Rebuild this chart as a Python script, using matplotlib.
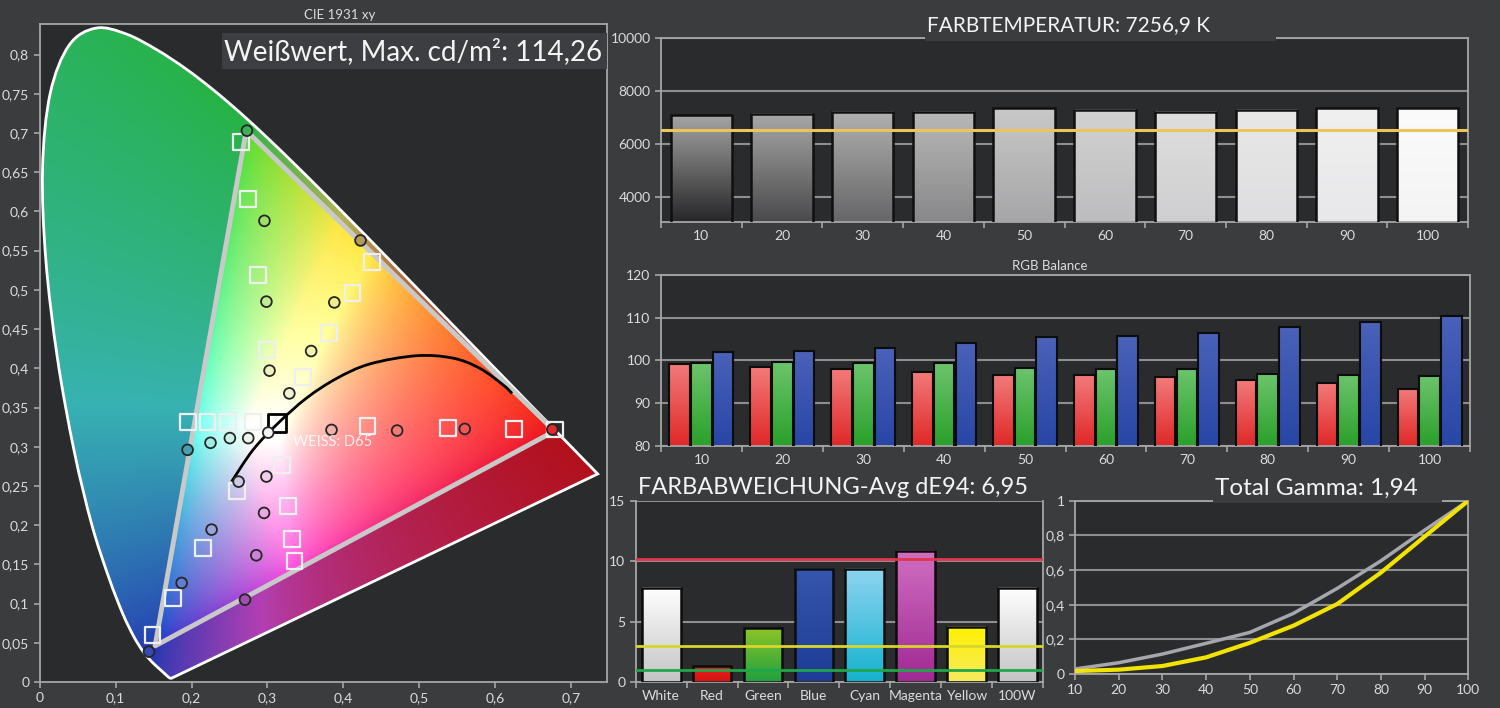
import numpy as np
import matplotlib
matplotlib.use("Agg")
import matplotlib.pyplot as plt
from matplotlib.patches import Polygon, Rectangle, PathPatch
from matplotlib.colors import LinearSegmentedColormap
from matplotlib.path import Path
from matplotlib.ticker import FuncFormatter

plt.rcParams['font.family'] = ['Lato', 'DejaVu Sans']

# ---------------- data ----------------
# CIE 1931 2deg spectral locus, 380..700 nm in 5 nm steps
locus_x = [0.1741, 0.1740, 0.1738, 0.1736, 0.1733, 0.1730, 0.1726, 0.1721, 0.1714, 0.1703,
           0.1689, 0.1669, 0.1644, 0.1611, 0.1566, 0.1510, 0.1440, 0.1355, 0.1241, 0.1096,
           0.0913, 0.0687, 0.0454, 0.0235, 0.0082, 0.0039, 0.0139, 0.0389, 0.0743, 0.1142,
           0.1547, 0.1929, 0.2296, 0.2658, 0.3016, 0.3373, 0.3731, 0.4087, 0.4441, 0.4788,
           0.5125, 0.5448, 0.5752, 0.6029, 0.6270, 0.6482, 0.6658, 0.6801, 0.6915, 0.7006,
           0.7079, 0.7140, 0.7190, 0.7230, 0.7260, 0.7283, 0.7300, 0.7311, 0.7320, 0.7327,
           0.7334, 0.7340, 0.7344, 0.7346, 0.7347]
locus_y = [0.0050, 0.0050, 0.0049, 0.0049, 0.0048, 0.0048, 0.0048, 0.0048, 0.0051, 0.0058,
           0.0069, 0.0086, 0.0109, 0.0138, 0.0177, 0.0227, 0.0297, 0.0399, 0.0578, 0.0868,
           0.1327, 0.2007, 0.2950, 0.4127, 0.5384, 0.6548, 0.7502, 0.8120, 0.8338, 0.8262,
           0.8059, 0.7816, 0.7543, 0.7243, 0.6923, 0.6589, 0.6245, 0.5896, 0.5547, 0.5202,
           0.4866, 0.4544, 0.4242, 0.3965, 0.3725, 0.3514, 0.3340, 0.3197, 0.3083, 0.2993,
           0.2920, 0.2859, 0.2809, 0.2770, 0.2740, 0.2717, 0.2700, 0.2689, 0.2680, 0.2673,
           0.2666, 0.2660, 0.2656, 0.2654, 0.2653]
D65_XYZ = [0.9505, 1.0, 1.089]

gamut_x = [0.678, 0.272, 0.152]   # R, G, B
gamut_y = [0.320, 0.703, 0.046]

planck_x = [0.2528, 0.281, 0.314, 0.3514, 0.391, 0.4347, 0.496, 0.544, 0.5795, 0.610, 0.622]
planck_y = [0.2555, 0.296, 0.330, 0.362, 0.387, 0.4055, 0.416, 0.413, 0.400, 0.379, 0.368]

target_x = [0.265, 0.274, 0.287, 0.2996, 0.438, 0.412, 0.3805, 0.3467,
            0.195, 0.221, 0.248, 0.2806, 0.679, 0.6248, 0.538, 0.4317,
            0.3355, 0.3324, 0.3267, 0.319, 0.1486, 0.176, 0.2146, 0.260]
target_y = [0.689, 0.616, 0.519, 0.4235, 0.535, 0.496, 0.445, 0.3886,
            0.332, 0.332, 0.332, 0.332, 0.322, 0.323, 0.3244, 0.3265,
            0.1543, 0.1828, 0.2245, 0.2768, 0.0603, 0.1075, 0.1713, 0.244]
white_target = (0.3127, 0.330)

meas_x = [0.273, 0.296, 0.2986, 0.3027, 0.4225, 0.388, 0.3575, 0.3288,
          0.1948, 0.225, 0.2505, 0.2747, 0.3010, 0.675, 0.5597, 0.4707, 0.3843,
          0.2704, 0.2853, 0.2955, 0.2986, 0.144, 0.187, 0.2264, 0.262]
meas_y = [0.703, 0.588, 0.485, 0.397, 0.563, 0.484, 0.422, 0.368,
          0.296, 0.305, 0.311, 0.311, 0.318, 0.322, 0.3227, 0.3206, 0.3214,
          0.105, 0.1616, 0.2156, 0.262, 0.0387, 0.1263, 0.1943, 0.2555]

levels = [10, 20, 30, 40, 50, 60, 70, 80, 90, 100]
cct = [7083, 7132, 7208, 7208, 7336, 7283, 7208, 7283, 7336, 7336]
cct_target = 6500

rgb_red = [99.2, 98.5, 98.0, 97.2, 96.6, 96.6, 96.1, 95.3, 94.6, 93.4]
rgb_green = [99.4, 99.6, 99.3, 99.3, 98.2, 98.0, 98.0, 96.8, 96.6, 96.3]
rgb_blue = [101.9, 102.2, 102.9, 104.0, 105.4, 105.6, 106.3, 107.9, 109.1, 110.5]

de_names = ['White', 'Red', 'Green', 'Blue', 'Cyan', 'Magenta', 'Yellow', '100W']
de_values = [7.8, 1.32, 4.46, 9.36, 9.36, 10.85, 4.57, 7.8]
de_limits = [10.15, 3.0, 1.0]

gamma_ref = [0.029, 0.065, 0.115, 0.177, 0.24, 0.35, 0.494, 0.653, 0.83, 1.0]
gamma_meas = [0.017, 0.025, 0.046, 0.096, 0.18, 0.279, 0.404, 0.585, 0.793, 1.0]

# ---------------- style ----------------
FIG_BG = '#3b3c3e'
PLOT_BG = '#2a2b2d'
SPINE = '#a6a6a6'
TXT = '#dcdcdc'
W, H = 1500, 708

fig = plt.figure(figsize=(15, 7.08), dpi=100, facecolor=FIG_BG)


def px_axes(left, top, right, bottom):
    return fig.add_axes([left / W, 1 - bottom / H, (right - left) / W, (bottom - top) / H])


def comma(v, pos):
    return ('%g' % round(v, 4)).replace('.', ',')


def style(ax, size=10):
    ax.set_facecolor(PLOT_BG)
    for s in ax.spines.values():
        s.set_color(SPINE)
        s.set_linewidth(1.3)
    ax.tick_params(colors=SPINE, labelcolor=TXT, labelsize=size, length=4, width=1.2)


def cover(left, top, right, bottom):
    fig.patches.append(Rectangle((left / W, 1 - bottom / H), (right - left) / W, (bottom - top) / H,
                                 transform=fig.transFigure, facecolor=FIG_BG, edgecolor='none', zorder=5))


def smooth_path(xs, ys, close=False):
    # Catmull-Rom drawn as cubic bezier segments through the given points
    p = np.column_stack([xs, ys])
    n = len(p)
    verts, codes = [p[0]], [Path.MOVETO]
    for i in range(n - 1):
        a = p[max(i - 1, 0)]
        d = p[min(i + 2, n - 1)]
        verts += [p[i] + (p[i + 1] - a) / 6, p[i + 1] - (d - p[i]) / 6, p[i + 1]]
        codes += [Path.CURVE4] * 3
    if close:
        verts += [p[0], p[0]]
        codes += [Path.LINETO, Path.CLOSEPOLY]
    return Path(verts, codes)


def grad_bars(ax, bars, tops, bottoms, ymin):
    g = np.linspace(0, 1, 128).reshape(-1, 1)
    for b, c1, c2 in zip(bars, tops, bottoms):
        cm = LinearSegmentedColormap.from_list('g', [c2, c1])
        y0 = max(b.get_y(), ymin)
        ax.imshow(g, cmap=cm, origin='lower', aspect='auto', zorder=2,
                  extent=(b.get_x(), b.get_x() + b.get_width(), y0, b.get_y() + b.get_height()))


def cat_ticks(ax, names):
    n = len(names)
    ax.set_xticks(np.arange(n + 1) - 0.5, labels=[])
    ax.set_xticks(np.arange(n), labels=names, minor=True)
    ax.tick_params(axis='x', which='minor', length=0, labelcolor=TXT, pad=6)
    ax.set_xlim(-0.5, n - 0.5)


# ---------------- CIE diagram ----------------
ax = px_axes(39.6, 24, 607, 682)
style(ax)
ext = (0, 0.75, 0, 0.84)
xs = np.linspace(ext[0], ext[1], 760)
ys = np.linspace(ext[2], ext[3], 850)
X, Y = np.meshgrid(xs, ys)
Y = np.maximum(Y, 1e-3)
xyz = np.stack([X / Y, np.ones_like(X), (1 - X - Y) / Y], axis=-1)
gx, gy = np.array(gamut_x), np.array(gamut_y)
P = np.vstack([gx / gy, np.ones(3), (1 - gx - gy) / gy])
S = np.linalg.solve(P, np.array(D65_XYZ))
lin = xyz @ np.linalg.inv(P * S).T
outside = (lin < 0).any(axis=-1)
lin = np.clip(lin, 0, None)
lin = lin / (lin.max(axis=-1, keepdims=True) + 1e-9)

# inside the gamut: fairly saturated, green pulled towards yellow-green
in_mix = np.array([[0.92, 0.30, 0.06],
                   [0.06, 0.85, 0.20],
                   [0.08, 0.16, 0.78]])
img = np.clip((lin ** (1 / 1.5)) @ in_mix.T, 0, 1)

# outside the gamut: muted primaries mixed by weight
out_prim = np.array([[0.76, 0.14, 0.12],
                     [0.07, 0.63, 0.19],
                     [0.11, 0.25, 0.60]])
g = lin[outside] ** (1 / 1.3)
w = g / (g.sum(axis=-1, keepdims=True) + 1e-9)
c = w @ out_prim.T
c = c * (0.7 / (c.max(axis=-1, keepdims=True) + 1e-9))
img[outside] = np.clip(c, 0, 1)

locus_path = smooth_path(locus_x, locus_y, close=True)
locus = PathPatch(locus_path, facecolor='none', edgecolor='white', lw=2, zorder=4)
ax.add_patch(locus)
im = ax.imshow(img, extent=ext, origin='lower', aspect='auto', interpolation='bilinear', zorder=1)
im.set_clip_path(locus)

ax.add_patch(Polygon(np.column_stack([gamut_x, gamut_y]), closed=True, facecolor='none',
                     edgecolor='#c9c9c9', lw=3.5, zorder=5, joinstyle='round'))
ax.add_patch(PathPatch(smooth_path(planck_x, planck_y), facecolor='none', edgecolor='black', lw=2, zorder=6))

ix = np.clip(((np.array(meas_x) - ext[0]) / (ext[1] - ext[0]) * (len(xs) - 1)).astype(int), 0, len(xs) - 1)
iy = np.clip(((np.array(meas_y) - ext[2]) / (ext[3] - ext[2]) * (len(ys) - 1)).astype(int), 0, len(ys) - 1)
mcol = img[iy, ix] * 0.85 + 0.1
ax.scatter(target_x, target_y, marker='s', s=130, facecolor='none', edgecolor='#efefef', lw=1.6, zorder=7)
ax.scatter([white_target[0]], [white_target[1]], marker='s', s=160, facecolor='none', edgecolor='black', lw=2, zorder=7)
ax.scatter(meas_x, meas_y, marker='o', s=60, c=mcol, edgecolor='#262626', lw=1.3, zorder=8)
ax.text(0.333, 0.3065, 'WEISS: D65', color='white', alpha=0.85, fontsize=10.5, va='center', zorder=9)

ax.set_xlim(0, 0.747)
ax.set_ylim(0, 0.839)
ax.set_xticks(np.arange(0, 0.71, 0.1))
ax.set_yticks(np.arange(0, 0.81, 0.05))
ax.xaxis.set_major_formatter(FuncFormatter(comma))
ax.yaxis.set_major_formatter(FuncFormatter(comma))
fig.text(340 / W, 1 - 15 / H, 'CIE 1931 xy', ha='center', va='center', color=TXT, fontsize=9.5)
fig.patches.append(Rectangle((222 / W, 1 - 69 / H), (607 - 222) / W, 36 / H, transform=fig.transFigure,
                             facecolor='#3d3e41', edgecolor='none', zorder=5))
fig.text(602 / W, 1 - 52 / H, 'Weißwert, Max. cd/m²: 114,26', ha='right', va='center',
         color='#f4f4f4', fontsize=20, zorder=6)

# ---------------- colour temperature ----------------
ax = px_axes(661, 37.7, 1468, 221.7)
style(ax)
ymin = 3050
x = np.arange(len(levels))
bars = ax.bar(x, cct, width=0.76, color='none', edgecolor='#101010', lw=1.8, zorder=3)
tops = ['#a4a4a4', '#a8a8a8', '#b0b0b0', '#b8b8b8', '#c8c8c8', '#d2d2d2', '#dedede', '#e8e8e8', '#f0f0f0', '#fbfbfb']
bots = ['#272729', '#4a4a4c', '#666668', '#88888a', '#a6a6a8', '#bdbdbf', '#cfcfd1', '#dedee0', '#e8e8ea', '#f4f4f4']
grad_bars(ax, bars, tops, bots, ymin)
ax.axhline(cct_target, color='#e9c55c', lw=2.2, zorder=4)
ax.set_yticks([4000, 6000, 8000, 10000])
ax.yaxis.grid(True, color='#8e8e8e', lw=1.5)
ax.set_axisbelow(True)
cat_ticks(ax, [str(v) for v in levels])
ax.set_ylim(ymin, 10000)
cover(925, 6, 1276, 41)
fig.text(927 / W, 1 - 25 / H, 'FARBTEMPERATUR: 7256,9 K', ha='left', va='center', color='#f4f4f4',
         fontsize=15, zorder=6)

# ---------------- RGB balance ----------------
ax = px_axes(661, 275, 1470, 445.7)
style(ax)
off, bw = 0.268, 0.254
specs = [(rgb_red, -off, '#f27a7a', '#e02828'),
         (rgb_green, 0, '#6cc46c', '#2aa02a'),
         (rgb_blue, off, '#4a62b8', '#2846a6')]
for vals, dx, c1, c2 in specs:
    b = ax.bar(x + dx, vals, width=bw, color='none', edgecolor='#0c0c0c', lw=1.5, zorder=3)
    grad_bars(ax, b, [c1] * len(vals), [c2] * len(vals), 80)
ax.set_yticks([80, 90, 100, 110, 120])
ax.yaxis.grid(True, color='#8e8e8e', lw=1.5)
ax.set_axisbelow(True)
cat_ticks(ax, [str(v) for v in levels])
ax.set_ylim(80, 120)
fig.text(1050 / W, 1 - 266 / H, 'RGB Balance', ha='center', va='center', color=TXT, fontsize=9.5)

# ---------------- colour deviation ----------------
ax = px_axes(635.7, 500.7, 1043, 682)
style(ax)
xd = np.arange(len(de_names))
bars = ax.bar(xd, de_values, width=0.76, color='none', edgecolor='#0c0c0c', lw=1.8, zorder=3)
tops = ['#ffffff', '#e82222', '#8cc428', '#3556ac', '#8ed4f0', '#d06ec0', '#fff200', '#ffffff']
bots = ['#c4c4c4', '#d81010', '#20a040', '#1e3c96', '#14b2cf', '#a02a92', '#f6ea60', '#c4c4c4']
grad_bars(ax, bars, tops, bots, 0)
for v, c in zip(de_limits, ['#e0354a', '#d8d62a', '#1fa64a']):
    ax.axhline(v, color=c, lw=2, zorder=4)
ax.set_yticks([0, 5, 10, 15])
ax.yaxis.grid(True, color='#8e8e8e', lw=1.5)
ax.set_axisbelow(True)
ax.spines['top'].set_visible(False)
cat_ticks(ax, de_names)
ax.set_ylim(0, 15)
fig.text(638 / W, 1 - 487 / H, 'FARBABWEICHUNG-Avg dE94: 6,95', ha='left', va='center',
         color='#f4f4f4', fontsize=17, zorder=6)

# ---------------- gamma ----------------
ax = px_axes(1075, 500.7, 1468.3, 674)
style(ax)
ax.plot(levels, gamma_ref, color='#a6a6ae', lw=2.5, zorder=3)
ax.plot(levels, gamma_meas, color='#f2e400', lw=3, zorder=4)
ax.set_xticks(levels)
ax.set_yticks([0, 0.2, 0.4, 0.6, 0.8, 1.0])
ax.yaxis.set_major_formatter(FuncFormatter(comma))
ax.yaxis.grid(True, color='#8e8e8e', lw=1.5)
ax.set_axisbelow(True)
ax.set_xlim(10, 100)
ax.set_ylim(0, 1)
cover(1213, 472, 1442, 503)
fig.text(1215 / W, 1 - 488 / H, 'Total Gamma: 1,94', ha='left', va='center', color='#f4f4f4',
         fontsize=17.5, zorder=6)

fig.savefig('out.png', dpi=100, facecolor=FIG_BG)
